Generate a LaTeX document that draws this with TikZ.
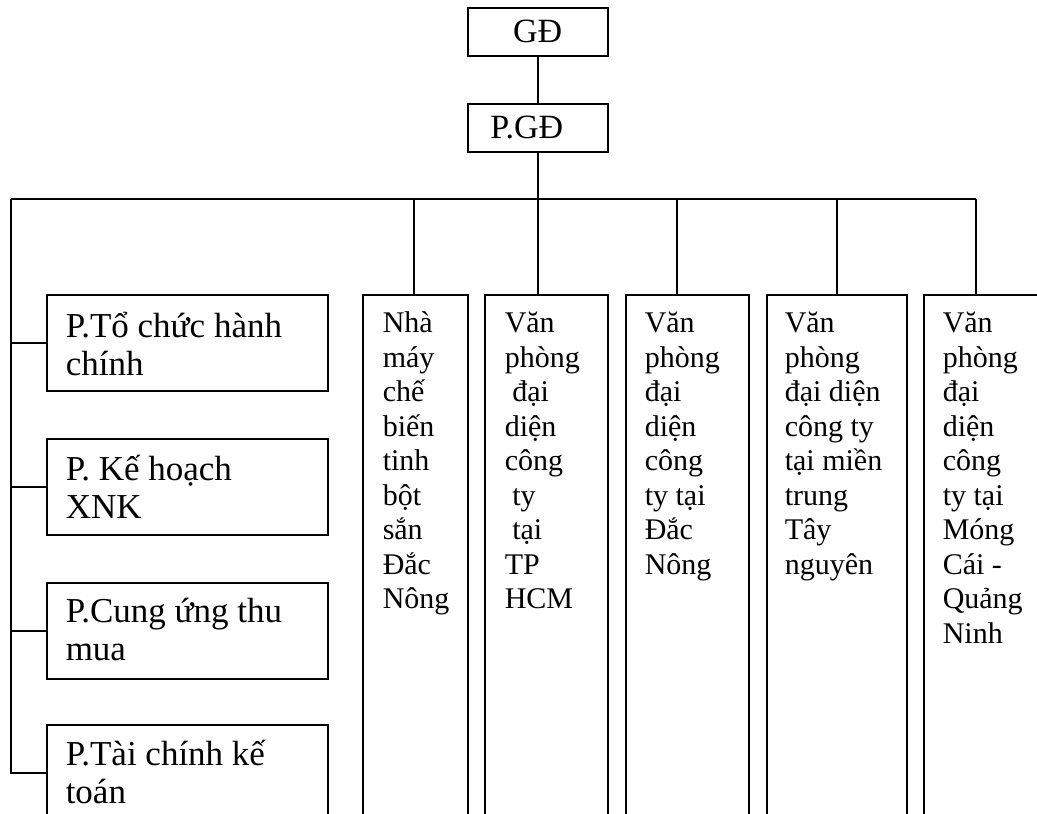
\documentclass[tikz,border=0pt]{standalone}
\usepackage{fontspec}
\setmainfont{Liberation Serif}
\usetikzlibrary{calc}
\begin{document}
\begin{tikzpicture}[x=1pt,y=-1pt,line width=1.5pt,
  topbox/.style={draw,rectangle,anchor=north west,minimum width=140,minimum height=48,inner sep=0,
    font=\fontsize{34}{38}\selectfont},
  lbox/.style={draw,rectangle,anchor=north west,minimum width=281,minimum height=96,inner sep=0},
  rbox/.style={draw,rectangle,anchor=north west,minimum height=536,inner sep=0},
  ltxt/.style={anchor=north west,inner sep=0,align=left,
    font={\fontsize{35}{38}\selectfont\lineskiplimit=-100pt}},
  rtxt/.style={anchor=north west,inner sep=0,align=left,
    font={\fontsize{30}{34.5}\selectfont\lineskiplimit=-100pt}}]
\useasboundingbox (0,0) rectangle (1037,814);
\clip (0,0) rectangle (1037,814);
% top boxes
\node[topbox] (g) at (467,7) {GĐ};
\node[topbox] (pg) at (467,103) {P.GĐ\hspace*{22pt}\mbox{}};
% left boxes
\node[lbox] (l1) at (46,294) {};
\node[lbox] (l2) at (46,438) {};
\node[lbox] (l3) at (46,582) {};
\node[lbox] (l4) at (46,724) {};
\node[ltxt] (lt1) at (65,304) {\rule{0pt}{33pt}P.Tổ chức hành\\chính};
\node[ltxt] (lt2) at (65,447) {\rule{0pt}{33pt}P. Kế hoạch\\XNK};
\node[ltxt] (lt3) at (65,589) {\rule{0pt}{33pt}P.Cung ứng thu\\mua};
\node[ltxt] (lt4) at (65,732) {\rule{0pt}{33pt}P.Tài chính kế\\toán};
% right boxes
\node[rbox,minimum width=105] (r1) at (362,294) {};
\node[rbox,minimum width=123] (r2) at (484,294) {};
\node[rbox,minimum width=123] (r3) at (625,294) {};
\node[rbox,minimum width=140] (r4) at (766,294) {};
\node[rbox,minimum width=137] (r5) at (923,294) {};
\node[rtxt] (rt1) at (382,300) {\rule{0pt}{32pt}Nhà\\máy\\chế\\biến\\tinh\\bột\\sắn\\Đắc\\Nông};
\node[rtxt] (rt2) at (504,300) {\rule{0pt}{32pt}Văn\\phòng\\\hspace*{7.5pt}đại\\diện\\công\\\hspace*{7.5pt}ty\\\hspace*{7.5pt}tại\\TP\\HCM};
\node[rtxt] (rt3) at (644,300) {\rule{0pt}{32pt}Văn\\phòng\\đại\\diện\\công\\ty tại\\Đắc\\Nông};
\node[rtxt] (rt4) at (784,300) {\rule{0pt}{32pt}Văn\\phòng\\đại diện\\công ty\\tại miền\\trung\\Tây\\nguyên};
\node[rtxt] (rt5) at (942,300) {\rule{0pt}{32pt}Văn\\phòng\\đại\\diện\\công\\ty tại\\Móng\\Cái -\\Quảng\\Ninh};
% connectors
\coordinate (busL) at (11,199);
\coordinate (busR) at (976,199);
\coordinate (d1) at (414,199);
\coordinate (d3) at (677,199);
\draw (g) -- (pg);
\draw (pg.south) -- (pg.south |- r2.north);
\draw (busL) -- (busR);
\draw (busL) |- (l4.west);
\foreach \i in {1,2,3} {\draw (busL |- l\i.west) -- (l\i.west);}
\draw (d1) -- (d1 |- r1.north);
\draw (d3) -- (d3 |- r3.north);
\draw (r4.north |- busL) -- (r4.north);
\draw (busR) -- (busR |- r5.north);
\end{tikzpicture}
\end{document}
